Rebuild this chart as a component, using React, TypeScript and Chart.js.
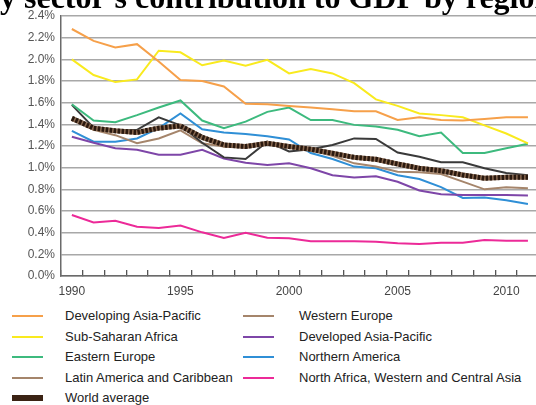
import React, { useEffect, useRef } from "react";
import { Chart, registerables } from "chart.js";

Chart.register(...registerables);

const TITLE = "Forestry sector's contribution to GDP by region";
const TITLE_HIDDEN_PREFIX = "Forestr";

const years = [
  "1990", "1991", "1992", "1993", "1994", "1995", "1996", "1997", "1998", "1999", "2000",
  "2001", "2002", "2003", "2004", "2005", "2006", "2007", "2008", "2009", "2010", "2011",
];

const yTickMin = 0;
const yTickMax = 2.4;
const yTickStep = 0.2;

const developingAsiaPacific = [2.28, 2.17, 2.11, 2.14, 1.98, 1.81, 1.80, 1.75, 1.59, 1.585, 1.57, 1.555, 1.54, 1.52, 1.52, 1.44, 1.465, 1.44, 1.435, 1.45, 1.465, 1.465];
const subSaharanAfrica = [2.0, 1.855, 1.79, 1.815, 2.08, 2.065, 1.945, 1.99, 1.94, 1.995, 1.87, 1.91, 1.87, 1.78, 1.63, 1.57, 1.5, 1.485, 1.465, 1.39, 1.315, 1.225];
const easternEurope = [1.585, 1.435, 1.42, 1.485, 1.555, 1.62, 1.435, 1.365, 1.425, 1.515, 1.555, 1.44, 1.44, 1.395, 1.38, 1.35, 1.29, 1.325, 1.135, 1.135, 1.18, 1.22];
const latinAmerica = [1.58, 1.37, 1.34, 1.35, 1.465, 1.39, 1.23, 1.095, 1.08, 1.24, 1.15, 1.17, 1.21, 1.27, 1.265, 1.14, 1.1, 1.05, 1.05, 0.995, 0.95, 0.93];
const westernEurope = [1.455, 1.35, 1.3, 1.225, 1.27, 1.345, 1.225, 1.195, 1.195, 1.225, 1.195, 1.16, 1.11, 1.04, 1.01, 0.963, 0.957, 0.942, 0.871, 0.8, 0.82, 0.81];
const developedAsiaPacific = [1.285, 1.23, 1.18, 1.165, 1.12, 1.12, 1.165, 1.085, 1.045, 1.025, 1.04, 0.995, 0.93, 0.91, 0.92, 0.87, 0.79, 0.755, 0.748, 0.748, 0.748, 0.742];
const northernAmerica = [1.34, 1.24, 1.24, 1.27, 1.365, 1.5, 1.355, 1.325, 1.31, 1.29, 1.26, 1.135, 1.08, 1.01, 0.995, 0.93, 0.895, 0.82, 0.72, 0.725, 0.7, 0.665];
const northAfricaWCAsia = [0.563, 0.495, 0.51, 0.455, 0.443, 0.465, 0.403, 0.351, 0.4, 0.354, 0.348, 0.32, 0.32, 0.32, 0.317, 0.302, 0.295, 0.308, 0.308, 0.332, 0.326, 0.326];
const worldAverage = [1.455, 1.365, 1.34, 1.325, 1.365, 1.385, 1.28, 1.21, 1.195, 1.225, 1.195, 1.17, 1.133, 1.095, 1.077, 1.034, 0.994, 0.972, 0.932, 0.902, 0.911, 0.911];

type Series = { name: string; data: number[]; color: string; legendColor: string };

const series: Series[] = [
  { name: "Developing Asia-Pacific", data: developingAsiaPacific, color: "#F6A04A", legendColor: "#F6A04A" },
  { name: "Sub-Saharan Africa", data: subSaharanAfrica, color: "#F9EA1E", legendColor: "#F9EA1E" },
  { name: "Eastern Europe", data: easternEurope, color: "#3DBA7E", legendColor: "#3DBA7E" },
  { name: "Latin America and Caribbean", data: latinAmerica, color: "#3a3a3a", legendColor: "#A5856B" },
  { name: "Western Europe", data: westernEurope, color: "#A5856B", legendColor: "#A5856B" },
  { name: "Developed Asia-Pacific", data: developedAsiaPacific, color: "#7E46A8", legendColor: "#7E46A8" },
  { name: "Northern America", data: northernAmerica, color: "#2F8FD6", legendColor: "#2F8FD6" },
  { name: "North Africa, Western and Central Asia", data: northAfricaWCAsia, color: "#EC2A98", legendColor: "#EC2A98" },
];

const worldName = "World average";

const legendColumns: string[][] = [
  ["Developing Asia-Pacific", "Sub-Saharan Africa", "Eastern Europe", "Latin America and Caribbean", "World average"],
  ["Western Europe", "Developed Asia-Pacific", "Northern America", "North Africa, Western and Central Asia"],
];

const titlePlugin = {
  id: "clippedTitle",
  afterDraw(chart: any) {
    const ctx = chart.ctx;
    ctx.save();
    ctx.font = 'bold 32px "Liberation Serif", "Times New Roman", serif';
    ctx.fillStyle = "#000";
    ctx.textBaseline = "alphabetic";
    ctx.textAlign = "left";
    const pre = ctx.measureText(TITLE_HIDDEN_PREFIX).width;
    ctx.fillText(TITLE, -pre, 8);
    ctx.restore();
  },
};

export default function App() {
  const canvasRef = useRef<HTMLCanvasElement | null>(null);

  useEffect(() => {
    if (!canvasRef.current) return;
    const datasets: any[] = [
      {
        label: worldName + " (pattern)",
        data: worldAverage,
        borderColor: "#2a190f",
        borderWidth: 5,
        borderDash: [2.5, 1.5],
        pointRadius: 0,
        fill: false,
        order: 0,
      },
      {
        label: worldName,
        data: worldAverage,
        borderColor: "#8a6a52",
        borderWidth: 5,
        pointRadius: 0,
        fill: false,
        order: 1,
      },
      ...series.map((s, i) => ({
        label: s.name,
        data: s.data,
        borderColor: s.color,
        backgroundColor: s.color,
        borderWidth: 2,
        pointRadius: 0,
        fill: false,
        order: 2 + i,
      })),
    ];

    const chart = new Chart(canvasRef.current, {
      type: "line",
      data: { labels: years, datasets },
      plugins: [titlePlugin],
      options: {
        responsive: false,
        animation: false,
        layout: { padding: { top: 16, right: 21.2, left: 0, bottom: 0 } },
        plugins: {
          legend: { display: false },
          title: { display: false },
          tooltip: { enabled: false },
        },
        scales: {
          x: {
            type: "category",
            offset: true,
            afterFit: (scale: any) => {
              scale.height = 24;
            },
            grid: {
              display: true,
              drawOnChartArea: false,
              drawTicks: true,
              tickLength: -6,
              color: "#555",
              lineWidth: 1.3,
              offset: true,
            },
            border: { display: true, color: "#6a6a6a", width: 1.5 },
            ticks: {
              autoSkip: false,
              maxRotation: 0,
              padding: 14,
              color: "#444",
              font: { family: '"Liberation Sans", Arial, sans-serif', size: 12 },
              callback: function (this: any, value: any) {
                const lbl = years[value as number];
                return Number(lbl) % 5 === 0 ? lbl : "";
              },
            },
          },
          y: {
            min: yTickMin,
            max: yTickMax,
            afterFit: (scale: any) => {
              scale.width = 61;
            },
            grid: {
              color: "#a8a8a8",
              lineWidth: 1.5,
              drawTicks: false,
            },
            border: { display: true, color: "#6a6a6a", width: 1.5 },
            ticks: {
              stepSize: yTickStep,
              padding: 6,
              color: "#555",
              font: { family: '"Liberation Sans", Arial, sans-serif', size: 12 },
              callback: (v: any) => Number(v).toFixed(1) + "%",
            },
          },
        },
      },
    });
    return () => chart.destroy();
  }, []);

  const rowTop = 316;
  const rowStep = 20.5;
  const colSampleX = [12, 243];
  const colTextX = [65, 299];
  const colorOf = (name: string) => {
    if (name === worldName) return "#3b2314";
    const s = series.find((x) => x.name === name);
    return s ? s.legendColor : "#000";
  };

  return (
    <div
      style={{
        position: "absolute",
        left: 0,
        top: 0,
        width: 536,
        height: 405,
        overflow: "hidden",
        background: "#fff",
      }}
    >
      <canvas ref={canvasRef} width={560} height={300} style={{ position: "absolute", left: 0, top: 0 }} />
      {legendColumns.map((col, c) =>
        col.map((name, r) => {
          const cy = rowTop + r * rowStep;
          const thick = name === worldName;
          const h = thick ? 6 : 2;
          return (
            <React.Fragment key={name}>
              <div
                style={{
                  position: "absolute",
                  left: colSampleX[c],
                  top: cy - h / 2,
                  width: 31,
                  height: h,
                  background: colorOf(name),
                }}
              />
              <div
                style={{
                  position: "absolute",
                  left: colTextX[c],
                  top: cy - 8,
                  fontFamily: '"Liberation Sans", Arial, sans-serif',
                  fontSize: 13,
                  lineHeight: "15px",
                  color: "#222",
                  whiteSpace: "nowrap",
                }}
              >
                {name}
              </div>
            </React.Fragment>
          );
        })
      )}
    </div>
  );
}
